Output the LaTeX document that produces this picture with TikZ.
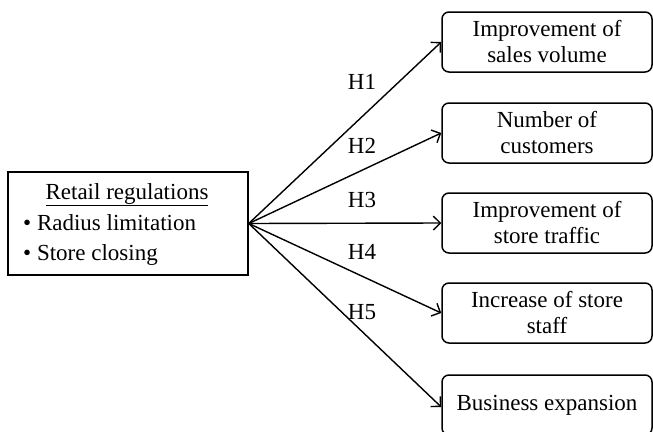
\documentclass[tikz,border=0pt]{standalone}
\usepackage{fontspec}
\setmainfont{Liberation Serif}
\usetikzlibrary{arrows.meta}
\begin{document}
\begin{tikzpicture}[x=1pt,y=-1pt,
  every node/.style={font=\fontsize{23}{26}\selectfont},
  source/.style={draw, line width=1.5pt, minimum width=240pt, minimum height=103pt, inner sep=0pt},
  outcome/.style={draw, rounded corners=7pt, line width=1.5pt, minimum width=210pt,
    minimum height=60pt, align=center, inner sep=0pt},
  link/.style={line width=1.4pt, -{Straight Barb[length=7pt,width=14pt,line width=1.4pt]}},
  hyp/.style={inner sep=0pt}]
\useasboundingbox (0,0) rectangle (653,431);

% independent variable box
\node[source] (reg) at (128,223.5) {};
\node[anchor=base, inner sep=0pt] (title) at (127,199) {\underline{Retail regulations}};
\node[anchor=base west, inner sep=0pt] (b1) at (23,230) {\textbullet\ Radius limitation};
\node[anchor=base west, inner sep=0pt] (b2) at (23,260) {\textbullet\ Store closing};

% outcome boxes
\node[outcome] (o1) at (547,42)  {Improvement of\\sales volume};
\node[outcome] (o2) at (547,133) {Number of\\customers};
\node[outcome] (o3) at (547,223) {Improvement of\\store traffic};
\node[outcome] (o4) at (547,313) {Increase of store\\staff};
\node[outcome] (o5) at (547,405) {Business expansion};

% hypothesis arrows
\coordinate (hub) at (reg.east);
\draw[link] (hub) -- (o1.west);
\draw[link] (hub) -- (o2.west);
\draw[link] (hub) -- (o3.west);
\draw[link] (hub) -- (o4.west);
\draw[link] (hub) -- ([yshift=-2pt]o5.west);

% hypothesis labels
\node[hyp] (h1) at (362,82)  {H1};
\node[hyp] (h2) at (362,146) {H2};
\node[hyp] (h3) at (362,200) {H3};
\node[hyp] (h4) at (362,252) {H4};
\node[hyp] (h5) at (362,312) {H5};
\end{tikzpicture}
\end{document}
